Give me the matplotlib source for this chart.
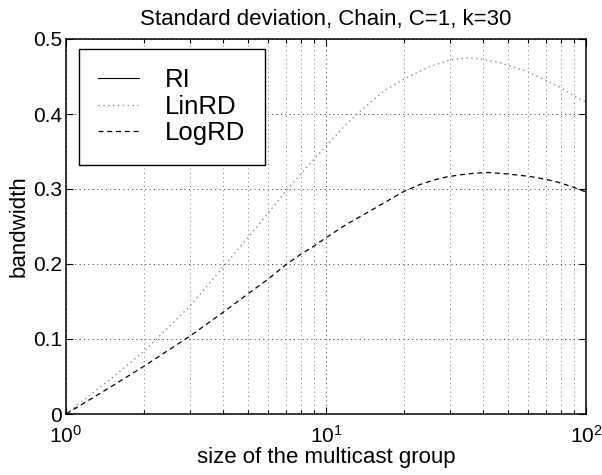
import matplotlib
matplotlib.use('Agg')
import matplotlib.pyplot as plt
from matplotlib.ticker import LogLocator, MultipleLocator, NullFormatter

plt.rcParams['font.family'] = ['Liberation Sans', 'DejaVu Sans']
plt.rcParams['mathtext.fontset'] = 'custom'
plt.rcParams['mathtext.rm'] = 'Liberation Sans'
plt.rcParams['mathtext.it'] = 'Liberation Sans:italic'
plt.rcParams['mathtext.bf'] = 'Liberation Sans:bold'

# ------------------------------------------------------------
# data
# ------------------------------------------------------------
lin_x = [1, 1.5, 2, 3, 4, 5, 6, 7, 8, 9, 10, 12, 13.3, 15, 16.6, 20, 25,
         30, 35, 40, 46, 50, 60, 70, 80, 90, 100]
linrd = [0.0, 0.048, 0.084, 0.144, 0.195, 0.235, 0.268, 0.297, 0.320,
         0.340, 0.357, 0.387, 0.401, 0.417, 0.430, 0.447, 0.463, 0.472,
         0.475, 0.473, 0.469, 0.465, 0.456, 0.445, 0.435, 0.424, 0.416]

log_x = [1, 1.5, 2, 3, 4, 5, 6, 7, 8, 9, 10, 12, 15, 18, 20, 23, 26, 29,
         33, 37, 42, 50, 60, 70, 80, 90, 100]
logrd = [0.0, 0.037, 0.064, 0.104, 0.135, 0.160, 0.180, 0.199, 0.213,
         0.224, 0.235, 0.253, 0.272, 0.288, 0.297, 0.306, 0.312, 0.316,
         0.319, 0.321, 0.322, 0.320, 0.317, 0.313, 0.308, 0.302, 0.296]

ri_x = [1, 100]
ri = [0.0, 0.0]

fig = plt.figure(figsize=(6.02, 4.75), dpi=100)
ax = fig.add_axes([66 / 602, 1 - 414 / 475, 520 / 602, 375 / 475])

ax.plot(ri_x, ri, '-', color='black', lw=0.8, label='RI')
ax.plot(lin_x, linrd, color='#8c8c8c', lw=1.0, dashes=(1, 2.5),
        label='LinRD')
ax.plot(log_x, logrd, color='black', lw=0.9, dashes=(4, 3), label='LogRD')

ax.set_xscale('log')
ax.set_xlim(1, 100)
ax.set_ylim(0, 0.5)
ax.yaxis.set_major_locator(MultipleLocator(0.1))
ax.xaxis.set_major_locator(LogLocator(base=10))
ax.xaxis.set_minor_locator(LogLocator(base=10, subs=range(2, 10)))
ax.xaxis.set_minor_formatter(NullFormatter())
ax.yaxis.set_major_formatter(plt.FuncFormatter(lambda v, p: f'{v:g}'))

ax.grid(True, which='major', color='#333333', linestyle=(0, (1, 3.5)),
        linewidth=0.7)
ax.grid(True, which='minor', axis='x', color='#777777',
        linestyle=(0, (1, 3.5)), linewidth=0.7)
ax.tick_params(which='both', direction='in', top=True, right=True,
               labelsize=15, width=0.8)
ax.tick_params(which='major', length=5)
ax.tick_params(which='minor', length=3)
ax.tick_params(axis='x', which='major', pad=8)
ax.tick_params(axis='y', which='major', pad=3)
for s in ax.spines.values():
    s.set_linewidth(1.1)

ax.set_xlabel('size of the multicast group', fontsize=16, labelpad=0)
ax.set_ylabel('bandwidth', fontsize=16, labelpad=2)
ax.set_title('Standard deviation, Chain, C=1, k=30', fontsize=16, pad=10)

leg = ax.legend(loc='upper left', bbox_to_anchor=(13 / 520, 1 - 10 / 375),
                fontsize=18.5, handlelength=1.6, handletextpad=1.0,
                borderpad=0.75, labelspacing=0.1, fancybox=False,
                framealpha=1, borderaxespad=0)
leg.get_frame().set_edgecolor('black')
leg.get_frame().set_linewidth(1.0)

fig.savefig('out.png', dpi=100)
